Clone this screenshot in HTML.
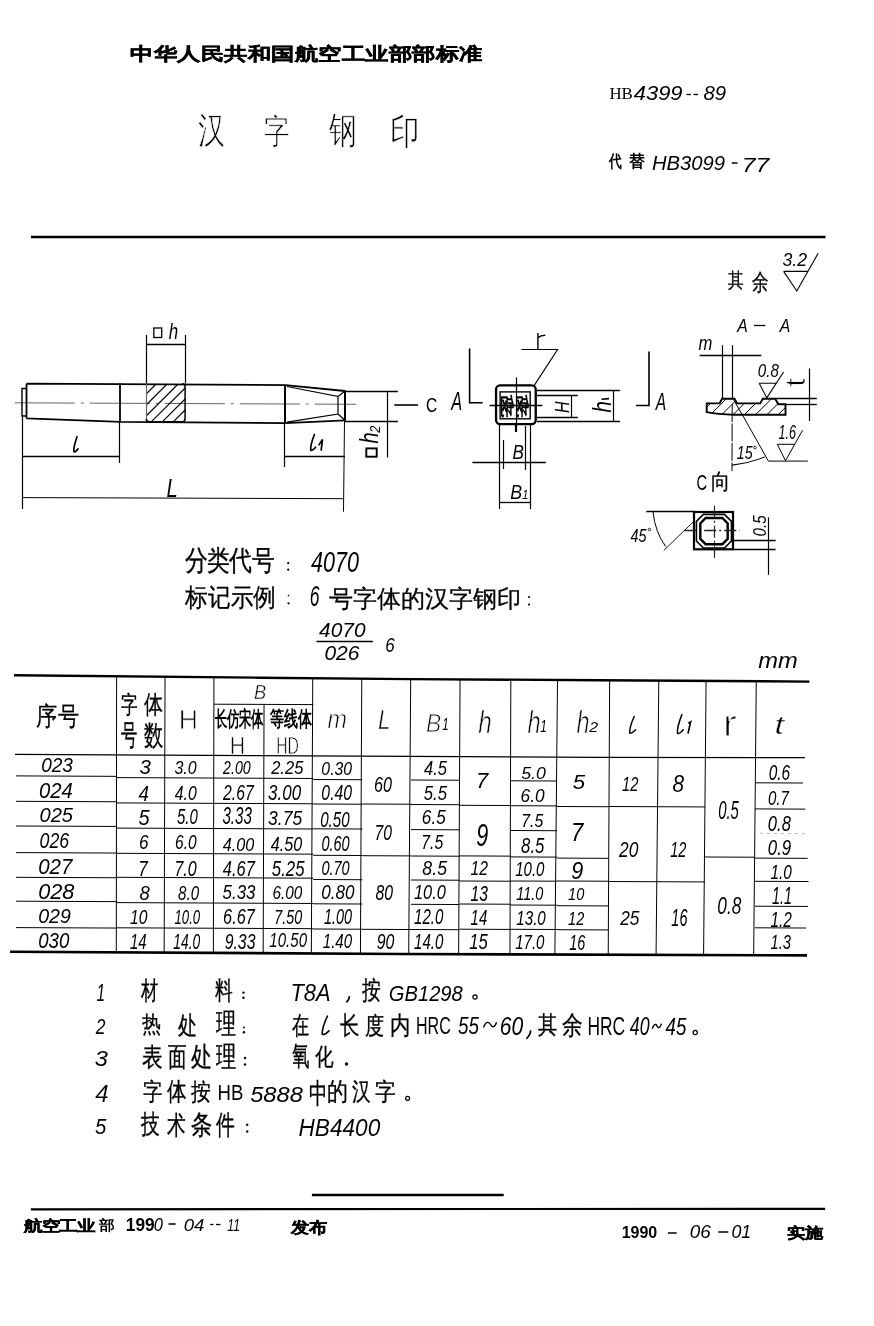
<!DOCTYPE html>
<html><head><meta charset="utf-8"><style>
html,body{margin:0;padding:0;background:#fff;}
svg{display:block;font-family:"Liberation Sans",sans-serif;filter:grayscale(1);}
</style></head><body>
<svg width="874" height="1326" viewBox="0 0 874 1326" font-size="100" fill="#000">
<rect width="874" height="1326" fill="#fff"/>
<text transform="matrix(0.23768 0 0 0.18381 130.449 60.191)" font-weight="900" stroke="#000" stroke-width="2.392">中华人民共和国航空工业部部标准</text>
<text transform="matrix(0.27234 0 0 0.37174 197.855 143.139)" stroke="#fff" stroke-width="1.886">汉</text>
<text transform="matrix(0.25591 0 0 0.34286 264.032 142.543)" stroke="#fff" stroke-width="2.026">字</text>
<text transform="matrix(0.27391 0 0 0.37609 328.800 142.711)" stroke="#fff" stroke-width="1.869">钢</text>
<text transform="matrix(0.29286 0 0 0.35638 389.950 144.223)" stroke="#fff" stroke-width="1.857">印</text>
<text transform="matrix(0.16870 0 0 0.16667 609.394 99.433)" font-family="&quot;Liberation Serif&quot;, sans-serif">HB</text>
<text transform="matrix(0.21918 0 0 0.20282 633.781 100.397)" font-style="italic">4399</text>
<text transform="matrix(0.20377 0 0 0.19859 703.389 100.401)" font-style="italic">89</text>
<text transform="matrix(0.12871 0 0 0.17188 608.986 167.022)" font-weight="bold">代</text>
<text transform="matrix(0.15657 0 0 0.16837 628.800 167.243)" font-weight="bold">替</text>
<text transform="matrix(0.20253 0 0 0.20282 651.892 170.397)" font-style="italic">HB3099</text>
<text transform="matrix(0.24712 0 0 0.20571 741.729 171.600)" font-style="italic">77</text>
<text transform="matrix(0.15426 0 0 0.19898 727.891 287.116)" stroke="#000" stroke-width="1.712">其</text>
<text transform="matrix(0.16237 0 0 0.22526 751.775 289.646)" stroke="#000" stroke-width="1.569">余</text>
<text transform="matrix(0.17630 0 0 0.17746 782.471 265.623)" font-style="italic">3.2</text>
<text transform="matrix(0.16939 0 0 0.22603 168.661 339.200)" font-style="italic">h</text>
<text transform="matrix(0 -0.20000 0.26000 0 378.090 443.500)" font-style="italic">h</text>
<text transform="matrix(0 -0.12727 0.13857 0 379.700 432.673)" font-style="italic">2</text>
<text transform="matrix(0.15556 0 0 0.20423 425.922 412.496)">C</text>
<text transform="matrix(0.16364 0 0 0.26232 451.218 410.100)" font-style="italic">A</text>
<text transform="matrix(0.20217 0 0 0.26667 166.393 497.000)" font-style="italic">L</text>
<text transform="matrix(-0.14031 0 0 0.24211 528.579 413.611)" font-weight="bold">钢钢</text>
<text transform="matrix(0 -0.15942 0.20725 0 568.750 412.878)" font-style="italic">H</text>
<text transform="matrix(0 -0.20408 0.25753 0 610.900 412.408)" font-style="italic">h</text>
<text transform="matrix(0.15606 0 0 0.23623 655.780 409.800)" font-style="italic">A</text>
<text transform="matrix(0.17167 0 0 0.19855 512.385 458.700)" font-style="italic">B</text>
<text transform="matrix(0.17833 0 0 0.20870 510.265 499.200)" font-style="italic">B</text>
<text transform="matrix(0.10909 0 0 0.13043 522.173 499.000)" font-style="italic">1</text>
<text transform="matrix(0.15758 0 0 0.18551 737.288 332.400)" font-style="italic">A</text>
<text transform="matrix(0.15758 0 0 0.18551 779.688 332.400)" font-style="italic">A</text>
<text transform="matrix(0.16623 0 0 0.20741 698.468 350.000)" font-style="italic">m</text>
<text transform="matrix(0.15111 0 0 0.17465 757.796 377.425)" font-style="italic">0.8</text>
<text transform="matrix(0 -0.31154 0.26818 0 804.632 386.812)" stroke="#fff" stroke-width="2.422">t</text>
<text transform="matrix(0.14167 0 0 0.18143 736.775 459.019)" font-style="italic">15</text>
<text transform="matrix(0.12647 0 0 0.19718 778.421 438.803)" font-style="italic">1.6</text>
<text transform="matrix(0.14762 0 0 0.22817 696.462 490.472)">C</text>
<text transform="matrix(0.19091 0 0 0.21915 710.964 489.251)" stroke="#000" stroke-width="1.467">向</text>
<text transform="matrix(0.14364 0 0 0.18592 630.556 541.514)" font-style="italic">45</text>
<text transform="matrix(0 -0.15185 0.19155 0 765.708 536.507)" font-style="italic">0.5</text>
<text transform="matrix(0.22690 0 0 0.27789 184.646 570.387)" stroke="#000" stroke-width="1.195">分类代号</text>
<text transform="matrix(0.21538 0 0 0.29577 310.985 571.504)" font-style="italic">4070</text>
<text transform="matrix(0.22832 0 0 0.25158 185.000 605.929)" stroke="#000" stroke-width="1.252">标记示例</text>
<text transform="matrix(0.17551 0 0 0.29437 309.747 606.106)" font-style="italic">6</text>
<text transform="matrix(0.24322 0 0 0.24286 329.214 607.043)" stroke="#000" stroke-width="1.234">号字体的汉字钢印</text>
<text transform="matrix(0.20860 0 0 0.21127 319.091 636.789)" font-style="italic">4070</text>
<text transform="matrix(0.20982 0 0 0.20986 324.461 660.490)" font-style="italic">026</text>
<text transform="matrix(0.16939 0 0 0.20845 385.284 651.592)" font-style="italic">6</text>
<text transform="matrix(0.23687 0 0 0.22037 758.226 667.900)" font-style="italic">mm</text>
<text transform="matrix(0.21399 0 0 0.26327 36.358 724.578)" stroke="#000" stroke-width="1.264">序号</text>
<text transform="matrix(0.16667 0 0 0.24082 121.000 713.469)" stroke="#000" stroke-width="1.497">字</text>
<text transform="matrix(0.19278 0 0 0.25376 144.000 713.301)" stroke="#000" stroke-width="1.356">体</text>
<text transform="matrix(0.16489 0 0 0.29341 121.170 744.686)" stroke="#000" stroke-width="1.364">号</text>
<text transform="matrix(0.19479 0 0 0.28404 143.805 744.523)" stroke="#000" stroke-width="1.275">数</text>
<text transform="matrix(0.26607 0 0 0.28116 178.671 729.000)" stroke="#fff" stroke-width="2.925">H</text>
<text transform="matrix(0.18333 0 0 0.19420 254.050 699.200)" font-style="italic" stroke="#fff" stroke-width="2.120">B</text>
<text transform="matrix(0.12125 0 0 0.20588 214.800 725.912)" font-weight="bold">长仿宋体</text>
<text transform="matrix(0.14167 0 0 0.21212 270.000 725.818)" font-weight="bold">等线体</text>
<text transform="matrix(0.21250 0 0 0.24783 229.700 753.500)" stroke="#fff" stroke-width="2.615">H</text>
<text transform="matrix(0.15758 0 0 0.24783 276.239 753.500)" stroke="#fff" stroke-width="3.036">HD</text>
<text transform="matrix(0.23377 0 0 0.25000 327.532 727.500)" font-style="italic" stroke="#fff" stroke-width="2.482">m</text>
<text transform="matrix(0.22609 0 0 0.28116 377.922 729.000)" font-style="italic" stroke="#fff" stroke-width="2.380">L</text>
<text transform="matrix(0.22833 0 0 0.26087 426.115 732.000)" font-style="italic" stroke="#fff" stroke-width="3.278">B</text>
<text transform="matrix(0.11591 0 0 0.17391 442.152 730.000)" font-style="italic">1</text>
<text transform="matrix(0.24286 0 0 0.30685 478.314 733.400)" font-style="italic" stroke="#fff" stroke-width="2.198">h</text>
<text transform="matrix(0.23673 0 0 0.30685 527.427 733.400)" font-style="italic" stroke="#fff" stroke-width="2.226">h</text>
<text transform="matrix(0.11818 0 0 0.17391 540.145 732.000)" font-style="italic">1</text>
<text transform="matrix(0.23469 0 0 0.30685 576.531 733.400)" font-style="italic" stroke="#fff" stroke-width="2.236">h</text>
<text transform="matrix(0.16000 0 0 0.15000 589.160 731.500)" font-style="italic">2</text>
<text transform="matrix(0.42800 0 0 0.37222 722.704 736.000)" stroke="#fff" stroke-width="3.257">r</text>
<text transform="matrix(0.34273 0 0 0.26364 774.602 734.336)" font-style="italic" stroke="#fff" stroke-width="1.663">t</text>
<text transform="matrix(0.19074 0 0 0.20423 41.137 772.296)" font-style="italic">023</text>
<text transform="matrix(0.20314 0 0 0.21268 38.987 798.287)" font-style="italic">024</text>
<text transform="matrix(0.20061 0 0 0.19437 39.498 821.506)" font-style="italic">025</text>
<text transform="matrix(0.17730 0 0 0.21408 39.591 847.986)" font-style="italic">026</text>
<text transform="matrix(0.20482 0 0 0.21268 38.181 873.787)" font-style="italic">027</text>
<text transform="matrix(0.21790 0 0 0.21268 38.128 898.887)" font-style="italic">028</text>
<text transform="matrix(0.19565 0 0 0.20282 38.217 922.997)" font-style="italic">029</text>
<text transform="matrix(0.18642 0 0 0.21268 38.254 947.587)" font-style="italic">030</text>
<text transform="matrix(0.20577 0 0 0.21127 139.483 773.789)" font-style="italic">3</text>
<text transform="matrix(0.18824 0 0 0.22857 138.612 800.500)" font-style="italic">4</text>
<text transform="matrix(0.20000 0 0 0.22571 138.400 824.574)" font-style="italic">5</text>
<text transform="matrix(0.17143 0 0 0.21127 138.971 849.289)" font-style="italic">6</text>
<text transform="matrix(0.17143 0 0 0.21714 138.286 875.800)" font-style="italic">7</text>
<text transform="matrix(0.18462 0 0 0.20704 139.446 899.793)" font-style="italic">8</text>
<text transform="matrix(0.15701 0 0 0.20563 129.929 923.994)" font-style="italic">10</text>
<text transform="matrix(0.15000 0 0 0.22286 129.950 948.800)" font-style="italic">14</text>
<text transform="matrix(0.16000 0 0 0.18592 174.420 773.814)" font-style="italic">3.0</text>
<text transform="matrix(0.15766 0 0 0.20423 174.742 800.296)" font-style="italic">4.0</text>
<text transform="matrix(0.15000 0 0 0.21972 177.000 824.280)" font-style="italic">5.0</text>
<text transform="matrix(0.15530 0 0 0.20282 175.068 849.497)" font-style="italic">6.0</text>
<text transform="matrix(0.16016 0 0 0.21972 174.398 875.880)" font-style="italic">7.0</text>
<text transform="matrix(0.15111 0 0 0.20282 178.047 899.997)" font-style="italic">8.0</text>
<text transform="matrix(0.13194 0 0 0.20282 174.504 923.997)" font-style="italic">10.0</text>
<text transform="matrix(0.13822 0 0 0.21972 173.285 949.180)" font-style="italic">14.0</text>
<text transform="matrix(0.14205 0 0 0.18592 223.042 773.814)" font-style="italic">2.00</text>
<text transform="matrix(0.15729 0 0 0.21831 223.057 800.282)" font-style="italic">2.67</text>
<text transform="matrix(0.15131 0 0 0.23662 222.446 824.263)" font-style="italic">3.33</text>
<text transform="matrix(0.16218 0 0 0.18592 222.738 850.714)" font-style="italic">4.00</text>
<text transform="matrix(0.16497 0 0 0.21972 222.735 875.880)" font-style="italic">4.67</text>
<text transform="matrix(0.16927 0 0 0.20423 222.561 898.796)" font-style="italic">5.33</text>
<text transform="matrix(0.16302 0 0 0.21972 223.122 923.980)" font-style="italic">6.67</text>
<text transform="matrix(0.15842 0 0 0.21972 224.666 949.180)" font-style="italic">9.33</text>
<text transform="matrix(0.16531 0 0 0.18592 271.165 773.814)" font-style="italic">2.25</text>
<text transform="matrix(0.16963 0 0 0.21831 268.091 800.282)" font-style="italic">3.00</text>
<text transform="matrix(0.17500 0 0 0.20282 268.075 825.497)" font-style="italic">3.75</text>
<text transform="matrix(0.16166 0 0 0.20282 270.838 850.697)" font-style="italic">4.50</text>
<text transform="matrix(0.16788 0 0 0.21972 271.864 875.880)" font-style="italic">5.25</text>
<text transform="matrix(0.15319 0 0 0.18592 272.481 898.814)" font-style="italic">6.00</text>
<text transform="matrix(0.14348 0 0 0.20282 274.365 923.997)" font-style="italic">7.50</text>
<text transform="matrix(0.15061 0 0 0.20282 269.348 946.797)" font-style="italic">10.50</text>
<text transform="matrix(0.15789 0 0 0.18592 321.368 775.014)" font-style="italic">0.30</text>
<text transform="matrix(0.15789 0 0 0.22113 321.368 800.279)" font-style="italic">0.40</text>
<text transform="matrix(0.15158 0 0 0.21972 320.194 826.680)" font-style="italic">0.50</text>
<text transform="matrix(0.14526 0 0 0.21972 321.419 850.680)" font-style="italic">0.60</text>
<text transform="matrix(0.14526 0 0 0.20423 321.419 874.796)" font-style="italic">0.70</text>
<text transform="matrix(0.17105 0 0 0.20423 321.316 898.796)" font-style="italic">0.80</text>
<text transform="matrix(0.14450 0 0 0.21972 323.966 923.980)" font-style="italic">1.00</text>
<text transform="matrix(0.15079 0 0 0.20282 322.748 947.997)" font-style="italic">1.40</text>
<text transform="matrix(0.16154 0 0 0.21972 373.931 791.780)" font-style="italic">60</text>
<text transform="matrix(0.15700 0 0 0.21972 374.430 839.880)" font-style="italic">70</text>
<text transform="matrix(0.15794 0 0 0.22113 375.526 899.979)" font-style="italic">80</text>
<text transform="matrix(0.15849 0 0 0.21972 376.666 949.180)" font-style="italic">90</text>
<text transform="matrix(0.16594 0 0 0.20282 423.934 774.997)" font-style="italic">4.5</text>
<text transform="matrix(0.16715 0 0 0.20714 423.766 800.293)" font-style="italic">5.5</text>
<text transform="matrix(0.17218 0 0 0.20423 421.867 824.296)" font-style="italic">6.5</text>
<text transform="matrix(0.15814 0 0 0.20282 421.319 849.497)" font-style="italic">7.5</text>
<text transform="matrix(0.17721 0 0 0.20423 422.368 874.796)" font-style="italic">8.5</text>
<text transform="matrix(0.16387 0 0 0.20423 414.008 898.796)" font-style="italic">10.0</text>
<text transform="matrix(0.15079 0 0 0.21972 414.048 923.980)" font-style="italic">12.0</text>
<text transform="matrix(0.15079 0 0 0.21972 414.048 949.180)" font-style="italic">14.0</text>
<text transform="matrix(0.22041 0 0 0.22286 475.996 788.400)" font-style="italic">7</text>
<text transform="matrix(0.21600 0 0 0.32113 476.136 845.779)" font-style="italic">9</text>
<text transform="matrix(0.15701 0 0 0.20714 470.529 875.000)" font-style="italic">12</text>
<text transform="matrix(0.15701 0 0 0.21972 470.529 901.180)" font-style="italic">13</text>
<text transform="matrix(0.15000 0 0 0.22286 470.550 925.400)" font-style="italic">14</text>
<text transform="matrix(0.16667 0 0 0.22286 469.300 949.177)" font-style="italic">15</text>
<text transform="matrix(0.17721 0 0 0.16901 521.246 778.631)" font-style="italic">5.0</text>
<text transform="matrix(0.17273 0 0 0.18732 520.564 801.513)" font-style="italic">6.0</text>
<text transform="matrix(0.15814 0 0 0.18592 521.219 826.714)" font-style="italic">7.5</text>
<text transform="matrix(0.16765 0 0 0.21972 521.097 853.080)" font-style="italic">8.5</text>
<text transform="matrix(0.15079 0 0 0.20282 515.148 875.897)" font-style="italic">10.0</text>
<text transform="matrix(0.14426 0 0 0.18592 516.367 900.014)" font-style="italic">11.0</text>
<text transform="matrix(0.15131 0 0 0.20282 516.346 925.197)" font-style="italic">13.0</text>
<text transform="matrix(0.15079 0 0 0.20282 515.148 949.197)" font-style="italic">17.0</text>
<text transform="matrix(0.22222 0 0 0.20571 572.856 789.394)" font-style="italic">5</text>
<text transform="matrix(0.22041 0 0 0.25714 571.096 841.300)" font-style="italic">7</text>
<text transform="matrix(0.21600 0 0 0.23662 571.236 879.463)" font-style="italic">9</text>
<text transform="matrix(0.14579 0 0 0.16901 568.063 900.031)" font-style="italic">10</text>
<text transform="matrix(0.14579 0 0 0.18857 568.063 925.400)" font-style="italic">12</text>
<text transform="matrix(0.14444 0 0 0.21972 569.267 950.380)" font-style="italic">16</text>
<text transform="matrix(0.14673 0 0 0.20571 622.060 790.800)" font-style="italic">12</text>
<text transform="matrix(0.17387 0 0 0.21972 619.074 856.680)" font-style="italic">20</text>
<text transform="matrix(0.17232 0 0 0.20282 620.272 925.197)" font-style="italic">25</text>
<text transform="matrix(0.20769 0 0 0.23662 672.377 791.763)" font-style="italic">8</text>
<text transform="matrix(0.14579 0 0 0.22286 670.163 856.900)" font-style="italic">12</text>
<text transform="matrix(0.14444 0 0 0.23662 671.367 926.363)" font-style="italic">16</text>
<text transform="matrix(0.14889 0 0 0.25915 718.204 818.641)" font-style="italic">0.5</text>
<text transform="matrix(0.17259 0 0 0.23662 717.310 913.963)" font-style="italic">0.8</text>
<text transform="matrix(0.15407 0 0 0.21408 768.684 780.186)" font-style="italic">0.6</text>
<text transform="matrix(0.15072 0 0 0.19296 767.897 805.107)" font-style="italic">0.7</text>
<text transform="matrix(0.16593 0 0 0.22535 767.836 831.475)" font-style="italic">0.8</text>
<text transform="matrix(0.16842 0 0 0.21408 767.826 854.686)" font-style="italic">0.9</text>
<text transform="matrix(0.15407 0 0 0.20282 770.438 878.697)" font-style="italic">1.0</text>
<text transform="matrix(0.14375 0 0 0.23188 772.069 903.800)" font-style="italic">1.1</text>
<text transform="matrix(0.15407 0 0 0.21714 770.438 927.000)" font-style="italic">1.2</text>
<text transform="matrix(0.14815 0 0 0.20282 770.456 949.197)" font-style="italic">1.3</text>
<text transform="matrix(0.15455 0 0 0.23913 96.436 1001.100)" font-style="italic">1</text>
<text transform="matrix(0.17010 0 0 0.24632 140.800 999.298)" stroke="#000" stroke-width="1.466">材</text>
<text transform="matrix(0.17917 0 0 0.25263 214.621 998.916)" stroke="#000" stroke-width="1.410">料</text>
<text transform="matrix(0.21893 0 0 0.23239 290.430 1000.868)" font-style="italic">T8A</text>
<text transform="matrix(0.18737 0 0 0.25833 362.213 998.883)" stroke="#000" stroke-width="1.364">按</text>
<text transform="matrix(0.20166 0 0 0.21268 388.792 1000.887)" font-style="italic">GB1298</text>
<text transform="matrix(0.17455 0 0 0.21571 95.675 1034.000)" font-style="italic">2</text>
<text transform="matrix(0.18936 0 0 0.22917 142.011 1031.733)" stroke="#000" stroke-width="1.440">热</text>
<text transform="matrix(0.19348 0 0 0.25435 177.707 1034.257)" stroke="#000" stroke-width="1.352">处</text>
<text transform="matrix(0.19688 0 0 0.27528 216.400 1033.422)" stroke="#000" stroke-width="1.289">理</text>
<text transform="matrix(0.17447 0 0 0.25435 292.051 1033.748)" stroke="#000" stroke-width="1.424">在</text>
<text transform="matrix(0.19247 0 0 0.24894 340.015 1033.813)" stroke="#000" stroke-width="1.371">长</text>
<text transform="matrix(0.19457 0 0 0.24375 364.516 1033.875)" stroke="#000" stroke-width="1.378">度</text>
<text transform="matrix(0.20122 0 0 0.24632 389.590 1033.598)" stroke="#000" stroke-width="1.348">内</text>
<text transform="matrix(0.16049 0 0 0.23099 416.016 1033.769)">HRC</text>
<text transform="matrix(0.18899 0 0 0.23429 458.122 1033.766)" font-style="italic">55</text>
<text transform="matrix(0.21058 0 0 0.25070 499.737 1034.949)" font-style="italic">60</text>
<text transform="matrix(0.19043 0 0 0.23878 537.619 1032.780)" stroke="#000" stroke-width="1.407">其</text>
<text transform="matrix(0.20645 0 0 0.26000 562.387 1034.260)" stroke="#000" stroke-width="1.295">余</text>
<text transform="matrix(0.17415 0 0 0.25070 587.407 1034.949)">HRC</text>
<text transform="matrix(0.17706 0 0 0.25070 629.823 1034.949)" font-style="italic">40</text>
<text transform="matrix(0.18727 0 0 0.23239 665.513 1034.968)" font-style="italic">45</text>
<text transform="matrix(0.23654 0 0 0.21268 94.790 1065.887)" font-style="italic">3</text>
<text transform="matrix(0.20870 0 0 0.26277 141.574 1065.647)" stroke="#000" stroke-width="1.281">表</text>
<text transform="matrix(0.18936 0 0 0.27444 167.921 1065.507)" stroke="#000" stroke-width="1.316">面</text>
<text transform="matrix(0.20870 0 0 0.26848 191.391 1066.115)" stroke="#000" stroke-width="1.267">处</text>
<text transform="matrix(0.20000 0 0 0.27753 216.300 1066.302)" stroke="#000" stroke-width="1.273">理</text>
<text transform="matrix(0.17634 0 0 0.27143 292.047 1065.271)" stroke="#000" stroke-width="1.371">氧</text>
<text transform="matrix(0.18542 0 0 0.23913 315.329 1064.630)" stroke="#000" stroke-width="1.425">化</text>
<text transform="matrix(0.24118 0 0 0.23571 95.259 1101.800)" font-style="italic" stroke="#fff" stroke-width="0.491">4</text>
<text transform="matrix(0.19247 0 0 0.23878 142.923 1100.096)" stroke="#000" stroke-width="1.399">字</text>
<text transform="matrix(0.19794 0 0 0.25161 166.900 1099.929)" stroke="#000" stroke-width="1.344">体</text>
<text transform="matrix(0.20211 0 0 0.24375 191.398 1099.788)" stroke="#000" stroke-width="1.352">按</text>
<text transform="matrix(0.18571 0 0 0.21884 217.514 1100.400)">HB</text>
<text transform="matrix(0.23727 0 0 0.21268 250.125 1101.587)" font-style="italic">5888</text>
<text transform="matrix(0.18415 0 0 0.28065 309.279 1102.813)" stroke="#000" stroke-width="1.320">中</text>
<text transform="matrix(0.21059 0 0 0.25161 326.526 1099.929)" stroke="#000" stroke-width="1.303">的</text>
<text transform="matrix(0.18936 0 0 0.25435 352.421 1100.148)" stroke="#000" stroke-width="1.367">汉</text>
<text transform="matrix(0.20645 0 0 0.23878 375.481 1100.096)" stroke="#000" stroke-width="1.351">字</text>
<text transform="matrix(0.20370 0 0 0.21571 95.093 1134.084)" font-style="italic">5</text>
<text transform="matrix(0.18542 0 0 0.25729 140.800 1133.498)" stroke="#000" stroke-width="1.374">技</text>
<text transform="matrix(0.18936 0 0 0.26277 166.521 1133.947)" stroke="#000" stroke-width="1.345">术</text>
<text transform="matrix(0.20870 0 0 0.26559 190.974 1133.647)" stroke="#000" stroke-width="1.274">条</text>
<text transform="matrix(0.18454 0 0 0.26559 216.300 1133.647)" stroke="#000" stroke-width="1.355">件</text>
<text transform="matrix(0.22626 0 0 0.23239 298.521 1135.868)" font-style="italic" stroke="#fff" stroke-width="0.119">HB4400</text>
<text transform="matrix(0.18075 0 0 0.14600 24.061 1230.502)" font-weight="900" stroke="#000" stroke-width="2.462">航空工业</text>
<text transform="matrix(0.15258 0 0 0.13564 98.653 1230.165)" font-weight="bold">部</text>
<text transform="matrix(0.17325 0 0 0.18028 125.761 1231.420)" font-weight="bold">199</text>
<text transform="matrix(0.16471 0 0 0.18028 153.841 1231.420)" font-style="italic">0</text>
<text transform="matrix(0.18641 0 0 0.15775 183.754 1231.442)" font-style="italic">04</text>
<text transform="matrix(0.12174 0 0 0.16232 227.335 1230.800)" font-style="italic">11</text>
<text transform="matrix(0.17750 0 0 0.15625 291.055 1232.812)" font-weight="900" stroke="#000" stroke-width="2.402">发布</text>
<text transform="matrix(0.16038 0 0 0.16056 621.638 1237.539)" font-weight="bold">1990</text>
<text transform="matrix(0.18879 0 0 0.17887 689.745 1237.521)" font-style="italic">06</text>
<text transform="matrix(0.17778 0 0 0.17887 731.389 1237.521)" font-style="italic">01</text>
<text transform="matrix(0.18103 0 0 0.14902 786.676 1237.965)" font-weight="900" stroke="#000" stroke-width="2.435">实施</text>
<line x1="686.50" y1="94.50" x2="691.00" y2="94.50" stroke="#000" stroke-width="1.3" />
<line x1="693.50" y1="94.50" x2="698.00" y2="94.50" stroke="#000" stroke-width="1.3" />
<line x1="731.80" y1="163.00" x2="737.50" y2="163.00" stroke="#000" stroke-width="1.5" />
<line x1="31.00" y1="237.00" x2="825.50" y2="237.00" stroke="#000" stroke-width="2.4" />
<path d="M783.6 271.4 L807.5 271.4 M783.6 271.4 L796.8 291 L818.2 253.2" fill="none" stroke="#000" stroke-width="1.1" />
<line x1="14.80" y1="402.80" x2="356.00" y2="404.30" stroke="#555" stroke-width="0.9" stroke-dasharray="60 6 3 6"/>
<path d="M26.5 388.5 L22 388.5 L22 416 L26.5 416" fill="none" stroke="#000" stroke-width="1.4" />
<path d="M26.5 383.7 L285.4 385.1 M26.5 418.3 L120.5 421.9 L285.4 423.2 M26.5 383.7 L26.5 418.3" fill="none" stroke="#000" stroke-width="1.8" />
<line x1="120.00" y1="383.30" x2="120.00" y2="422.20" stroke="#000" stroke-width="1.8" />
<clipPath id="hs"><rect x="146.3" y="383.8" width="38.8" height="38.0" rx="3.0"/></clipPath>
<g clip-path="url(#hs)" stroke="#000" stroke-width="1.1"><line x1="106.1" y1="434" x2="156.1" y2="384"/><line x1="117.1" y1="434" x2="167.1" y2="384"/><line x1="128.1" y1="434" x2="178.1" y2="384"/><line x1="139.1" y1="434" x2="189.1" y2="384"/><line x1="150.1" y1="434" x2="200.1" y2="384"/><line x1="161.1" y1="434" x2="211.1" y2="384"/><line x1="172.1" y1="434" x2="222.1" y2="384"/></g>
<line x1="146.50" y1="383.80" x2="146.50" y2="420.00" stroke="#666" stroke-width="1.2" />
<path d="M146.3 419 Q146.3 421.8 149.3 421.8 L182.1 421.8 Q185.1 421.8 185.1 418.8 L185.1 386.8 Q185.1 383.8 182.1 383.8" fill="none" stroke="#000" stroke-width="1.5" />
<line x1="285.00" y1="384.80" x2="285.00" y2="423.40" stroke="#000" stroke-width="2.0" />
<path d="M285.4 385.1 L345 391 M285.4 423.2 L345 420.3" fill="none" stroke="#000" stroke-width="1.8" />
<path d="M287 386.5 L338 396.5 L338 414 L287 422.2 M338 396.5 L345 391 M338 414 L345 420.3" fill="none" stroke="#000" stroke-width="1.2" />
<line x1="345.00" y1="390.50" x2="345.00" y2="420.80" stroke="#000" stroke-width="2.0" />
<line x1="146.50" y1="335.00" x2="146.50" y2="383.40" stroke="#000" stroke-width="1.2" />
<line x1="185.50" y1="335.00" x2="185.50" y2="383.40" stroke="#000" stroke-width="1.2" />
<line x1="146.50" y1="344.50" x2="185.50" y2="344.50" stroke="#000" stroke-width="1.3" />
<rect x="153.8" y="328" width="7.9" height="9.5" fill="none" stroke="#000" stroke-width="1.3"/>
<line x1="345.00" y1="391.50" x2="397.80" y2="391.50" stroke="#000" stroke-width="1.3" />
<line x1="345.00" y1="421.50" x2="397.80" y2="421.50" stroke="#000" stroke-width="1.3" />
<line x1="387.50" y1="391.00" x2="387.50" y2="457.50" stroke="#000" stroke-width="1.2" />
<rect x="366.3" y="448.4" width="10.4" height="8.3" fill="none" stroke="#000" stroke-width="1.9"/>
<line x1="394.30" y1="405.00" x2="418.00" y2="405.00" stroke="#000" stroke-width="1.6" />
<path d="M469.6 348.5 L469.6 402.8 L482.7 402.8" fill="none" stroke="#000" stroke-width="1.6" />
<line x1="22.50" y1="416.00" x2="22.50" y2="509.00" stroke="#000" stroke-width="1.2" />
<line x1="22.40" y1="456.50" x2="119.50" y2="456.50" stroke="#000" stroke-width="1.3" />
<line x1="119.50" y1="422.00" x2="119.50" y2="463.00" stroke="#000" stroke-width="1.2" />
<path d="M77.01 436.70 C75.08 442.16 73.50 448.40 73.86 451.70 Q75.08 452.70 78.00 448.87" fill="none" stroke="#000" stroke-width="1.7" stroke-linecap="round"/>
<line x1="284.50" y1="423.00" x2="284.50" y2="467.00" stroke="#000" stroke-width="1.2" />
<line x1="284.50" y1="456.50" x2="345.00" y2="456.50" stroke="#000" stroke-width="1.3" />
<line x1="344.50" y1="420.00" x2="343.50" y2="511.70" stroke="#000" stroke-width="1.0" />
<path d="M314.43 434.50 C312.16 440.20 310.30 446.73 310.72 450.20 Q312.16 451.20 315.60 447.21" fill="none" stroke="#000" stroke-width="1.7" stroke-linecap="round"/>
<path d="M318.7 445.4 L322.5 439.4 L321.1 450.6" fill="none" stroke="#000" stroke-width="1.7" />
<line x1="22.40" y1="497.60" x2="343.50" y2="498.70" stroke="#000" stroke-width="1.0" />
<rect x="496.05" y="385.45" width="39.7" height="38.6" rx="4" fill="none" stroke="#000" stroke-width="2.3"/>
<rect x="500.1" y="391.9" width="30.1" height="26.9" fill="none" stroke="#000" stroke-width="1.4"/>
<line x1="516.50" y1="377.40" x2="516.50" y2="432.00" stroke="#000" stroke-width="1.2" />
<line x1="489.50" y1="405.50" x2="542.40" y2="405.50" stroke="#000" stroke-width="1.3" />
<path d="M534.1 385.6 L557.6 349.5 L521.3 349.5" fill="none" stroke="#000" stroke-width="1.1" />
<path d="M537.9 333 L537.9 349 M537.9 337.6 Q540.5 335.4 545.3 335.3" fill="none" stroke="#000" stroke-width="1.4" />
<line x1="537.00" y1="395.50" x2="577.80" y2="395.50" stroke="#000" stroke-width="1.3" />
<line x1="537.00" y1="417.50" x2="577.80" y2="417.50" stroke="#000" stroke-width="1.3" />
<line x1="571.50" y1="395.20" x2="571.50" y2="417.50" stroke="#000" stroke-width="1.2" />
<line x1="537.00" y1="390.50" x2="619.80" y2="390.50" stroke="#000" stroke-width="1.3" />
<line x1="537.00" y1="421.50" x2="620.00" y2="421.50" stroke="#000" stroke-width="1.3" />
<line x1="613.50" y1="390.90" x2="613.50" y2="421.80" stroke="#000" stroke-width="1.2" />
<line x1="601.50" y1="399.20" x2="609.00" y2="398.60" stroke="#000" stroke-width="1.6" />
<path d="M649 351.5 L649 405.5 L636 405.5" fill="none" stroke="#000" stroke-width="1.6" />
<line x1="499.50" y1="425.00" x2="499.50" y2="509.00" stroke="#000" stroke-width="1.2" />
<line x1="530.50" y1="425.00" x2="530.50" y2="509.00" stroke="#000" stroke-width="1.2" />
<line x1="503.50" y1="440.00" x2="503.50" y2="469.00" stroke="#000" stroke-width="1.2" />
<line x1="525.50" y1="426.00" x2="525.50" y2="470.00" stroke="#000" stroke-width="1.2" />
<line x1="515.50" y1="425.00" x2="515.50" y2="432.00" stroke="#000" stroke-width="1.2" />
<line x1="472.40" y1="462.50" x2="545.80" y2="462.50" stroke="#000" stroke-width="1.3" />
<line x1="499.50" y1="502.50" x2="530.30" y2="502.50" stroke="#000" stroke-width="1.3" />
<line x1="754.00" y1="325.50" x2="765.30" y2="325.50" stroke="#000" stroke-width="1.3" />
<line x1="699.60" y1="355.50" x2="761.30" y2="355.50" stroke="#000" stroke-width="1.3" />
<line x1="722.50" y1="345.20" x2="722.50" y2="398.80" stroke="#000" stroke-width="1.2" />
<line x1="732.50" y1="345.20" x2="732.50" y2="398.50" stroke="#000" stroke-width="1.2" />
<line x1="732.20" y1="404.00" x2="732.00" y2="471.00" stroke="#000" stroke-width="1.0" stroke-dasharray="18 1.5"/>
<clipPath id="aa"><path d="M706.7 403.4 L719.6 403.4 L722.1 398.8 L734.5 398.8 L737.1 403.4 L760.2 403.4 L762.8 398.8 L775.2 398.8 L778.3 404.2 L785.5 404.2 L785.5 414.7 L734 414.7 Q718 414.2 706.7 412.1 Z"/></clipPath>
<g clip-path="url(#aa)" stroke="#000" stroke-width="1.0"><line x1="679.1" y1="434.7" x2="719.1" y2="394.7"/><line x1="690.4" y1="434.7" x2="730.4" y2="394.7"/><line x1="701.7" y1="434.7" x2="741.7" y2="394.7"/><line x1="713.0" y1="434.7" x2="753.0" y2="394.7"/><line x1="724.3000000000001" y1="434.7" x2="764.3000000000001" y2="394.7"/><line x1="735.6" y1="434.7" x2="775.6" y2="394.7"/><line x1="746.9" y1="434.7" x2="786.9" y2="394.7"/><line x1="758.2" y1="434.7" x2="798.2" y2="394.7"/><line x1="769.5" y1="434.7" x2="809.5" y2="394.7"/></g>
<path d="M706.7 403.4 L719.6 403.4 L722.1 398.8 L734.5 398.8 L737.1 403.4 L760.2 403.4 L762.8 398.8 L775.2 398.8 L778.3 404.2 L785.5 404.2 L785.5 414.7 L734 414.7 Q718 414.2 706.7 412.1 Z" fill="none" stroke="#000" stroke-width="1.9" />
<line x1="733.00" y1="398.80" x2="745.30" y2="420.00" stroke="#000" stroke-width="1.0" />
<path d="M759.2 383.2 L776.4 383.2 M759.2 383.2 L766.8 397.9 L783.6 372" fill="none" stroke="#000" stroke-width="1.1" />
<line x1="809.50" y1="368.50" x2="809.50" y2="421.00" stroke="#000" stroke-width="1.2" />
<line x1="775.20" y1="398.50" x2="816.80" y2="398.50" stroke="#000" stroke-width="1.3" />
<line x1="785.50" y1="404.50" x2="816.80" y2="404.50" stroke="#000" stroke-width="1.3" />
<path d="M745.3 420 L768.4 461.1 L807.8 461.1" fill="none" stroke="#000" stroke-width="1.0" />
<path d="M732 465.1 Q750 463 764.7 457" fill="none" stroke="#000" stroke-width="1.1" />
<circle cx="755" cy="447.5" r="1.3" fill="none" stroke="#000" stroke-width="0.8"/>
<path d="M777.3 444.3 L794.5 444.3 M777.3 444.3 L785.5 460.7 L802.6 430.2" fill="none" stroke="#000" stroke-width="1.0" />
<rect x="694" y="512" width="39" height="37.3" fill="none" stroke="#000" stroke-width="2.2"/>
<path d="M703.4 514.4 L724.4 514.4 L731.5 521.4 L731.5 541 L724.4 548 L703.4 548 L696.4 541 L696.4 521.4 Z" fill="none" stroke="#000" stroke-width="1.6" />
<path d="M705.6 518 L722.4 518 L727.7 523.4 L727.7 538.8 L722.4 544.2 L705.6 544.2 L700.3 538.8 L700.3 523.4 Z" fill="none" stroke="#000" stroke-width="2.4" />
<line x1="646.30" y1="511.50" x2="694.00" y2="511.50" stroke="#000" stroke-width="1.3" />
<line x1="663.80" y1="550.40" x2="693.00" y2="522.20" stroke="#000" stroke-width="0.9" />
<line x1="684.20" y1="530.50" x2="739.60" y2="530.50" stroke="#222" stroke-width="1.3" stroke-dasharray="12 3 2 3"/>
<line x1="714.50" y1="505.70" x2="714.50" y2="560.00" stroke="#222" stroke-width="1.2" stroke-dasharray="12 3 2 3"/>
<path d="M653 511.5 Q655 532 665.7 546.6" fill="none" stroke="#000" stroke-width="1.0" />
<circle cx="649.5" cy="529.5" r="1.3" fill="none" stroke="#000" stroke-width="0.8"/>
<line x1="768.50" y1="517.40" x2="768.50" y2="574.80" stroke="#000" stroke-width="1.2" />
<line x1="733.00" y1="540.50" x2="775.60" y2="540.50" stroke="#000" stroke-width="1.3" />
<line x1="733.80" y1="549.50" x2="775.60" y2="549.50" stroke="#000" stroke-width="1.3" />
<circle cx="288.2" cy="563.2" r="1.1"/>
<circle cx="288.2" cy="569.7" r="1.1"/>
<circle cx="288.5" cy="595.6" r="0.8"/>
<circle cx="288.5" cy="603.3" r="1.1"/>
<circle cx="529.0" cy="597.0" r="1.1"/>
<circle cx="529.0" cy="604.5" r="1.1"/>
<line x1="316.40" y1="641.50" x2="372.90" y2="641.50" stroke="#000" stroke-width="1.3" />
<path d="M14 675.3 L260 677.7 L410 679.1 L600 680.2 L809.4 681.6" fill="none" stroke="#000" stroke-width="2.4" />
<path d="M15 754.4 L410 756.3 L600 757.4 L805 757.6" fill="none" stroke="#000" stroke-width="1.2" />
<path d="M10 951.7 L400 954.0 L807 955.4" fill="none" stroke="#000" stroke-width="2.6" />
<line x1="116.62" y1="676.30" x2="116.29" y2="952.33" stroke="#000" stroke-width="1.0" />
<line x1="165.04" y1="676.77" x2="164.17" y2="952.61" stroke="#000" stroke-width="1.0" />
<line x1="213.93" y1="677.25" x2="213.38" y2="952.90" stroke="#000" stroke-width="1.0" />
<line x1="264.05" y1="704.50" x2="263.16" y2="953.20" stroke="#000" stroke-width="1.0" />
<line x1="312.76" y1="678.19" x2="311.34" y2="953.49" stroke="#000" stroke-width="1.0" />
<line x1="361.75" y1="678.65" x2="360.44" y2="953.77" stroke="#000" stroke-width="1.0" />
<line x1="410.68" y1="679.10" x2="408.71" y2="954.04" stroke="#000" stroke-width="1.0" />
<line x1="460.05" y1="679.39" x2="458.64" y2="954.21" stroke="#000" stroke-width="1.0" />
<line x1="510.83" y1="679.68" x2="509.96" y2="954.38" stroke="#000" stroke-width="1.0" />
<line x1="557.50" y1="679.95" x2="554.88" y2="954.54" stroke="#000" stroke-width="1.0" />
<line x1="609.65" y1="680.26" x2="608.23" y2="954.72" stroke="#000" stroke-width="1.0" />
<line x1="658.79" y1="680.59" x2="656.07" y2="954.89" stroke="#000" stroke-width="1.0" />
<line x1="706.08" y1="680.91" x2="703.58" y2="955.05" stroke="#000" stroke-width="1.0" />
<line x1="756.28" y1="681.24" x2="753.67" y2="955.23" stroke="#000" stroke-width="1.0" />
<line x1="214.10" y1="704.20" x2="313.20" y2="704.60" stroke="#000" stroke-width="1.0" />
<line x1="16.00" y1="775.90" x2="117.00" y2="776.35" stroke="#000" stroke-width="1.0" />
<line x1="16.00" y1="801.30" x2="117.00" y2="801.75" stroke="#000" stroke-width="1.0" />
<line x1="16.00" y1="826.00" x2="117.00" y2="826.45" stroke="#000" stroke-width="1.0" />
<line x1="16.00" y1="852.60" x2="117.00" y2="853.05" stroke="#000" stroke-width="1.0" />
<line x1="16.00" y1="877.30" x2="117.00" y2="877.75" stroke="#000" stroke-width="1.0" />
<line x1="16.00" y1="901.20" x2="117.00" y2="901.65" stroke="#000" stroke-width="1.0" />
<line x1="16.00" y1="927.60" x2="117.00" y2="928.05" stroke="#000" stroke-width="1.0" />
<line x1="117.00" y1="777.60" x2="313.20" y2="778.48" stroke="#000" stroke-width="1.0" />
<line x1="117.00" y1="802.90" x2="313.20" y2="803.78" stroke="#000" stroke-width="1.0" />
<line x1="117.00" y1="828.10" x2="313.20" y2="828.98" stroke="#000" stroke-width="1.0" />
<line x1="117.00" y1="853.30" x2="313.20" y2="854.18" stroke="#000" stroke-width="1.0" />
<line x1="117.00" y1="877.30" x2="313.20" y2="878.18" stroke="#000" stroke-width="1.0" />
<line x1="117.00" y1="902.60" x2="313.20" y2="903.48" stroke="#000" stroke-width="1.0" />
<line x1="117.00" y1="927.80" x2="313.20" y2="928.68" stroke="#000" stroke-width="1.0" />
<line x1="313.20" y1="779.50" x2="362.30" y2="779.72" stroke="#000" stroke-width="1.0" />
<line x1="313.20" y1="804.00" x2="362.30" y2="804.22" stroke="#000" stroke-width="1.0" />
<line x1="313.20" y1="828.80" x2="362.30" y2="829.02" stroke="#000" stroke-width="1.0" />
<line x1="313.20" y1="855.30" x2="362.30" y2="855.52" stroke="#000" stroke-width="1.0" />
<line x1="313.20" y1="879.50" x2="362.30" y2="879.72" stroke="#000" stroke-width="1.0" />
<line x1="313.20" y1="903.80" x2="362.30" y2="904.02" stroke="#000" stroke-width="1.0" />
<line x1="313.20" y1="929.00" x2="362.30" y2="929.22" stroke="#000" stroke-width="1.0" />
<line x1="362.30" y1="804.00" x2="411.00" y2="804.22" stroke="#000" stroke-width="1.0" />
<line x1="362.30" y1="855.70" x2="411.00" y2="855.92" stroke="#000" stroke-width="1.0" />
<line x1="362.30" y1="929.30" x2="411.00" y2="929.52" stroke="#000" stroke-width="1.0" />
<line x1="411.00" y1="780.00" x2="459.50" y2="780.22" stroke="#000" stroke-width="1.0" />
<line x1="411.00" y1="804.50" x2="459.50" y2="804.72" stroke="#000" stroke-width="1.0" />
<line x1="411.00" y1="829.60" x2="459.50" y2="829.82" stroke="#000" stroke-width="1.0" />
<line x1="411.00" y1="856.00" x2="459.50" y2="856.22" stroke="#000" stroke-width="1.0" />
<line x1="411.00" y1="880.00" x2="459.50" y2="880.22" stroke="#000" stroke-width="1.0" />
<line x1="411.00" y1="904.30" x2="459.50" y2="904.52" stroke="#000" stroke-width="1.0" />
<line x1="411.00" y1="929.50" x2="459.50" y2="929.72" stroke="#000" stroke-width="1.0" />
<line x1="459.50" y1="805.30" x2="510.60" y2="805.53" stroke="#000" stroke-width="1.0" />
<line x1="459.50" y1="855.90" x2="510.60" y2="856.13" stroke="#000" stroke-width="1.0" />
<line x1="459.50" y1="881.00" x2="510.60" y2="881.23" stroke="#000" stroke-width="1.0" />
<line x1="459.50" y1="904.00" x2="510.60" y2="904.23" stroke="#000" stroke-width="1.0" />
<line x1="459.50" y1="929.20" x2="510.60" y2="929.43" stroke="#000" stroke-width="1.0" />
<line x1="510.60" y1="780.80" x2="557.00" y2="781.01" stroke="#000" stroke-width="1.0" />
<line x1="510.60" y1="805.70" x2="557.00" y2="805.91" stroke="#000" stroke-width="1.0" />
<line x1="510.60" y1="830.50" x2="557.00" y2="830.71" stroke="#000" stroke-width="1.0" />
<line x1="510.60" y1="856.90" x2="557.00" y2="857.11" stroke="#000" stroke-width="1.0" />
<line x1="510.60" y1="881.00" x2="557.00" y2="881.21" stroke="#000" stroke-width="1.0" />
<line x1="510.60" y1="905.00" x2="557.00" y2="905.21" stroke="#000" stroke-width="1.0" />
<line x1="510.60" y1="929.30" x2="557.00" y2="929.51" stroke="#000" stroke-width="1.0" />
<line x1="557.00" y1="806.50" x2="608.50" y2="806.73" stroke="#000" stroke-width="1.0" />
<line x1="557.00" y1="858.10" x2="608.50" y2="858.33" stroke="#000" stroke-width="1.0" />
<line x1="557.00" y1="881.00" x2="608.50" y2="881.23" stroke="#000" stroke-width="1.0" />
<line x1="557.00" y1="905.70" x2="608.50" y2="905.93" stroke="#000" stroke-width="1.0" />
<line x1="557.00" y1="929.70" x2="608.50" y2="929.93" stroke="#000" stroke-width="1.0" />
<line x1="608.50" y1="806.50" x2="705.00" y2="806.93" stroke="#000" stroke-width="1.0" />
<line x1="608.50" y1="881.50" x2="705.00" y2="881.93" stroke="#000" stroke-width="1.0" />
<line x1="704.50" y1="857.00" x2="755.00" y2="857.23" stroke="#000" stroke-width="1.0" />
<line x1="755.00" y1="782.80" x2="802.90" y2="783.02" stroke="#000" stroke-width="1.0" />
<line x1="755.00" y1="808.90" x2="805.30" y2="809.13" stroke="#000" stroke-width="1.0" />
<line x1="755.00" y1="858.10" x2="807.70" y2="858.34" stroke="#000" stroke-width="1.0" />
<line x1="755.00" y1="881.30" x2="808.50" y2="881.54" stroke="#000" stroke-width="1.0" />
<line x1="755.00" y1="906.20" x2="808.00" y2="906.44" stroke="#000" stroke-width="1.0" />
<line x1="755.00" y1="927.80" x2="806.10" y2="928.03" stroke="#000" stroke-width="1.0" />
<line x1="760.00" y1="833.30" x2="806.00" y2="833.60" stroke="#999" stroke-width="0.7" stroke-dasharray="3 4"/>
<path d="M634.21 716.50 C631.50 722.49 629.30 729.33 629.80 733.00 Q631.50 734.00 635.60 729.84" fill="none" stroke="#000" stroke-width="1.5" stroke-linecap="round"/>
<path d="M681.91 714.60 C679.20 721.39 677.00 729.15 677.50 733.40 Q679.20 734.40 683.30 729.73" fill="none" stroke="#000" stroke-width="1.5" stroke-linecap="round"/>
<path d="M688.3 723.4 L690.6 721.9 L688.0 733.6" fill="none" stroke="#000" stroke-width="1.7" />
<circle cx="243.5" cy="992.6" r="1.2"/>
<circle cx="243.5" cy="997.8" r="1.2"/>
<path d="M349.3 996.2 Q349.6 999.5 346.4 1002.3" fill="none" stroke="#000" stroke-width="1.7" />
<circle cx="475" cy="997" r="2.1" fill="none" stroke="#000" stroke-width="1.2"/>
<circle cx="243.9" cy="1027.5" r="0.9"/>
<circle cx="243.9" cy="1032.3" r="1.2"/>
<path d="M327.42 1016.20 C324.32 1022.78 321.80 1030.30 322.38 1034.40 Q324.32 1035.40 329.00 1030.86" fill="none" stroke="#000" stroke-width="1.6" stroke-linecap="round"/>
<path d="M483.5 1027.5 C486 1021 489 1021.5 490.5 1024.5 C492 1027.5 494.5 1028 496.6 1022.2" fill="none" stroke="#000" stroke-width="1.4" />
<path d="M530.6 1030.3 Q530.6 1035 526.3 1038.8" fill="none" stroke="#000" stroke-width="1.7" />
<path d="M652.3 1028.8 C654 1023.5 656 1023.5 657 1026 C658 1028.5 660 1028.5 661.4 1023.6" fill="none" stroke="#000" stroke-width="1.4" />
<circle cx="695.2" cy="1032.5" r="2.1" fill="none" stroke="#000" stroke-width="1.2"/>
<circle cx="245" cy="1058" r="1.2"/>
<circle cx="245" cy="1064.5" r="1.2"/>
<circle cx="346.5" cy="1064.0" r="1.7"/>
<circle cx="407.6" cy="1098.3" r="2.0" fill="none" stroke="#000" stroke-width="1.2"/>
<circle cx="247.2" cy="1124.8" r="1.2"/>
<circle cx="247.2" cy="1131.5" r="1.2"/>
<line x1="311.90" y1="1195.00" x2="503.70" y2="1195.00" stroke="#000" stroke-width="2.4" />
<line x1="30.90" y1="1209.30" x2="825.10" y2="1208.80" stroke="#000" stroke-width="2.2" />
<line x1="168.50" y1="1224.00" x2="175.70" y2="1224.00" stroke="#000" stroke-width="1.5" />
<line x1="210.10" y1="1224.50" x2="213.50" y2="1224.50" stroke="#000" stroke-width="1.3" />
<line x1="216.00" y1="1224.50" x2="220.50" y2="1224.50" stroke="#000" stroke-width="1.3" />
<line x1="667.90" y1="1233.00" x2="676.70" y2="1233.00" stroke="#000" stroke-width="1.5" />
<line x1="718.20" y1="1232.00" x2="728.30" y2="1232.00" stroke="#000" stroke-width="1.5" />
</svg>
</body></html>
